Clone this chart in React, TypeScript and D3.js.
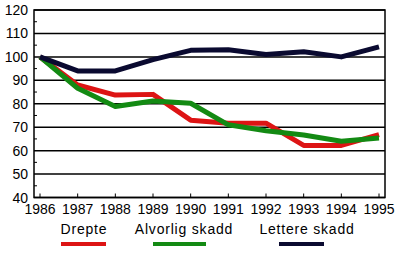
import React from "react";
import * as d3 from "d3";

const years = ["1986", "1987", "1988", "1989", "1990", "1991", "1992", "1993", "1994", "1995"];
const drepte = [100, 88, 83.7, 84, 73, 71.7, 71.7, 62.2, 62.2, 66.8];
const alvorlig = [100, 86.6, 78.8, 81.2, 80.2, 71, 68.5, 66.7, 64, 65.4];
const lettere = [100, 94, 94, 98.8, 102.8, 103, 101, 102.2, 100, 104.3];
const seriesNames = ["Drepte", "Alvorlig skadd", "Lettere skadd"];
const yTicks = [40, 50, 60, 70, 80, 90, 100, 110, 120];

const colors = ["#dd1414", "#138a13", "#0a0a30"];

export default function App() {
  const W = 400, H = 253;
  const left = 34, right = 385, top = 10, bottom = 197.5;
  const x = d3.scalePoint<string>().domain(years).range([40, 379]);
  const y = d3.scaleLinear().domain([40, 120]).range([bottom, top]);
  const line = d3.line<number>().x((_, i) => x(years[i])!).y((v) => y(v));
  const data = [drepte, alvorlig, lettere];
  const minor = d3.range(45, 120, 10);

  const legendLines = [
    { x1: 61, x2: 106, tx: 84 },
    { x1: 153, x2: 206, tx: 184 },
    { x1: 279, x2: 324, tx: 307 },
  ];

  return (
    <svg width={W} height={H} style={{ position: "absolute", left: 0, top: 0, background: "#fff" }}
      fontFamily="'Liberation Sans', Arial, sans-serif">
      {yTicks.map((t) => (
        <g key={t}>
          <line x1={left} x2={right} y1={y(t)} y2={y(t)} stroke="#000" strokeWidth={1.5} />
          <text x={28} y={y(t)} textAnchor="end" dominantBaseline="central" fontSize={14}>{t}</text>
        </g>
      ))}
      {minor.map((t) => (
        <line key={t} x1={left} x2={left + 3} y1={y(t)} y2={y(t)} stroke="#000" strokeWidth={1} />
      ))}
      <rect x={left} y={top} width={right - left} height={bottom - top} fill="none" stroke="#000" strokeWidth={1.5} />
      {years.map((yr) => (
        <g key={yr}>
          <line x1={x(yr)} x2={x(yr)} y1={bottom} y2={bottom - 4} stroke="#000" strokeWidth={1} />
          <text x={x(yr)} y={214} textAnchor="middle" fontSize={14}>{yr}</text>
        </g>
      ))}
      {data.map((d, i) => (
        <path key={i} d={line(d)!} fill="none" stroke={colors[i]} strokeWidth={5} strokeLinejoin="round" />
      ))}
      {seriesNames.map((n, i) => (
        <g key={n}>
          <text x={legendLines[i].tx} y={234} textAnchor="middle" fontSize={14} letterSpacing={0.8}>{n}</text>
          <line x1={legendLines[i].x1} x2={legendLines[i].x2} y1={244} y2={244} stroke={colors[i]} strokeWidth={4} />
        </g>
      ))}
    </svg>
  );
}
